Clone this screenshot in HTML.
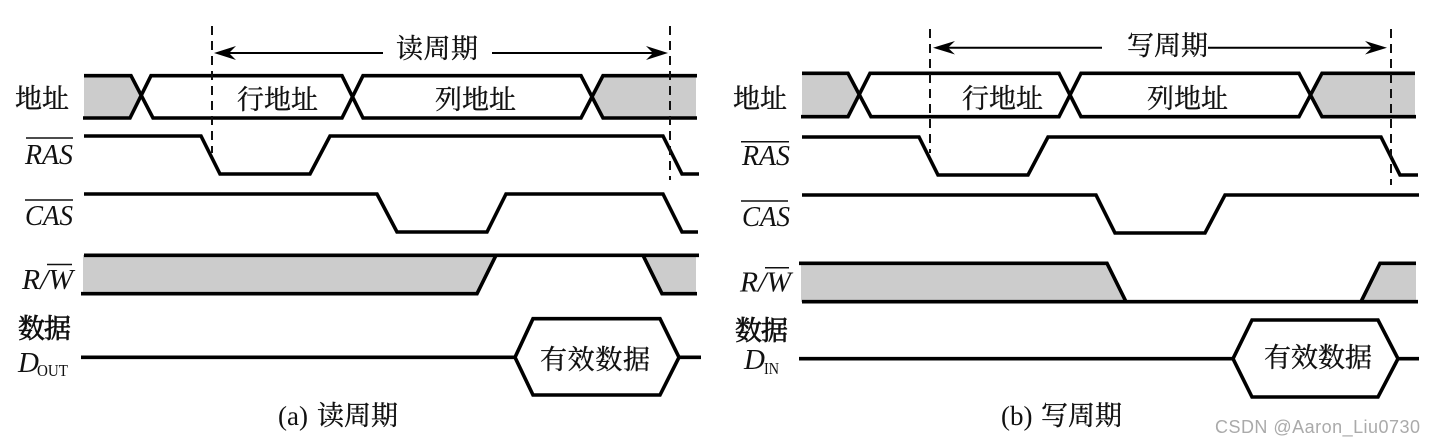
<!DOCTYPE html>
<html><head><meta charset="utf-8"><style>
html,body{margin:0;padding:0;background:#fff;width:1435px;height:445px;overflow:hidden}
svg{display:block}
.l{fill:none;stroke:#000;stroke-width:3.6;stroke-linejoin:miter}
.g{fill:#ccc;stroke:none}
.d{fill:none;stroke:#111;stroke-width:2;stroke-dasharray:9 6}
.a{fill:none;stroke:#000;stroke-width:2}
.h{fill:#000}
.o{stroke:#111;stroke-width:1.5}
text{fill:#111}
.c{font-family:"Noto Serif CJK SC","Liberation Serif",serif;font-size:27px;stroke:#111;stroke-width:.35}
.b{stroke-width:.7}
.i{font-family:"Liberation Serif",serif;font-style:italic;font-size:29px}
.s{font-family:"Liberation Serif",serif;font-size:17px}
.p{font-family:"Liberation Serif",serif;font-size:27px}
.w{font-family:"Liberation Sans",sans-serif;font-size:18px;fill:#aaa}
</style></head><body>
<svg width="1435" height="445" viewBox="0 0 1435 445" xmlns="http://www.w3.org/2000/svg">
<!-- Left panel fills -->
<polygon class="g" points="84,76 131,76 141,96 131,118 84,118"/>
<polygon class="g" points="592,96 603,76 696,76 696,118 603,118"/>
<polygon class="g" points="83,255 496,255 477,294 83,294"/>
<polygon class="g" points="643,255 696,255 696,294 662,294"/>
<!-- Left address -->
<path class="l" d="M84,75.7H131L153,118H342L363,75.7H581L603,118H697"/>
<path class="l" d="M83,118H130L151,75.7H342L363,118H581L603,75.7H697"/>
<!-- Left RAS / CAS -->
<path class="l" d="M84,136H201L220,174H310L330,136H663L682,174H699"/>
<path class="l" d="M84,194H377L397,232H487L506,194H663L682,232H698"/>
<!-- Left RW -->
<path class="l" d="M84,255.3H699"/>
<path class="l" d="M81,293.7H477L496,255.3"/>
<path class="l" d="M643,255.3L662,293.7H697"/>
<!-- Left data -->
<path class="l" d="M81,357.3H515L533,318.7H660L679,357.3H701"/>
<path class="l" d="M515,357.3L533,395H660L679,357.3"/>
<!-- Left dashes/arrows -->
<path class="d" d="M212,26V153"/>
<path class="d" d="M670,26V180"/>
<path class="a" d="M220,53H383M492,53H660"/>
<path class="h" d="M214,53L236,46L229,53L236,60Z"/>
<path class="h" d="M668,53L646,46L653,53L646,60Z"/>
<!-- Right panel fills -->
<polygon class="g" points="802,73 849,73 859,95 849,117 802,117"/>
<polygon class="g" points="1311,95 1322,73 1415,73 1415,117 1322,117"/>
<polygon class="g" points="801,263 1107,263 1126,302 801,302"/>
<polygon class="g" points="1361,302 1380,263 1416,263 1416,302"/>
<!-- Right address -->
<path class="l" d="M802,73.3H848L871,116.7H1059L1081,73.3H1299L1322,116.7H1416"/>
<path class="l" d="M801,116.7H848L870,73.3H1059L1081,116.7H1299L1322,73.3H1415"/>
<!-- Right RAS / CAS -->
<path class="l" d="M802,137H919L938,175H1028L1048,137H1381L1400,175H1418"/>
<path class="l" d="M802,195H1096L1115,233H1205L1225,195H1419"/>
<!-- Right RW -->
<path class="l" d="M799,263.3H1107L1126,301.7"/>
<path class="l" d="M802,301.7H1418"/>
<path class="l" d="M1361,301.7L1380,263.3H1416"/>
<!-- Right data -->
<path class="l" d="M799,358.7H1233L1252,320H1378L1398,358.7H1419"/>
<path class="l" d="M1233,358.7L1252,397H1378L1398,358.7"/>
<!-- Right dashes/arrows -->
<path class="d" d="M930,29V153"/>
<path class="d" d="M1391,29V185"/>
<path class="a" d="M940,47.7H1102M1208,47.7H1380"/>
<path class="h" d="M933,47.7L955,41L948,47.7L955,54.5Z"/>
<path class="h" d="M1387,47.7L1365,41L1372,47.7L1365,54.5Z"/>
<!-- Left labels -->
<text class="c" x="15" y="108" textLength="54">地址</text>
<text class="c" x="237" y="109" textLength="81">行地址</text>
<text class="c" x="435" y="109" textLength="81">列地址</text>
<text class="c" x="396" y="58" textLength="82">读周期</text>
<text class="c" x="540" y="369" textLength="110">有效数据</text>
<text class="c b" x="18" y="338" textLength="53">数据</text>
<text class="i" x="25" y="164" textLength="48" lengthAdjust="spacingAndGlyphs">RAS</text>
<path class="o" d="M26,138H73"/>
<text class="i" x="25" y="225" textLength="48" lengthAdjust="spacingAndGlyphs">CAS</text>
<path class="o" d="M25,200H73"/>
<text class="i" x="22" y="289" textLength="51" lengthAdjust="spacingAndGlyphs">R/W</text>
<path class="o" d="M47,264.5H72"/>
<text class="i" x="18" y="372">D</text>
<text class="s" x="37" y="376" textLength="31" lengthAdjust="spacingAndGlyphs">OUT</text>
<text class="p" x="278" y="425">(a)</text>
<text class="c" x="317" y="425" textLength="81">读周期</text>
<!-- Right labels -->
<text class="c" x="733" y="108" textLength="54">地址</text>
<text class="c" x="962" y="108" textLength="81">行地址</text>
<text class="c" x="1147" y="108" textLength="81">列地址</text>
<text class="c" x="1127" y="55" textLength="81">写周期</text>
<text class="c" x="1264" y="367" textLength="108">有效数据</text>
<text class="c b" x="735" y="340" textLength="53">数据</text>
<text class="i" x="742" y="165" textLength="48" lengthAdjust="spacingAndGlyphs">RAS</text>
<path class="o" d="M741,141.7H789"/>
<text class="i" x="742" y="226" textLength="48" lengthAdjust="spacingAndGlyphs">CAS</text>
<path class="o" d="M741,201H788"/>
<text class="i" x="740" y="291.5" textLength="51" lengthAdjust="spacingAndGlyphs">R/W</text>
<path class="o" d="M765,267.7H789"/>
<text class="i" x="744" y="369">D</text>
<text class="s" x="764" y="374" textLength="15" lengthAdjust="spacingAndGlyphs">IN</text>
<text class="p" x="1001" y="425">(b)</text>
<text class="c" x="1041" y="425" textLength="81">写周期</text>
<!-- Watermark -->
<text class="w" x="1215" y="433" textLength="205">CSDN @Aaron_Liu0730</text>
</svg>
</body></html>
